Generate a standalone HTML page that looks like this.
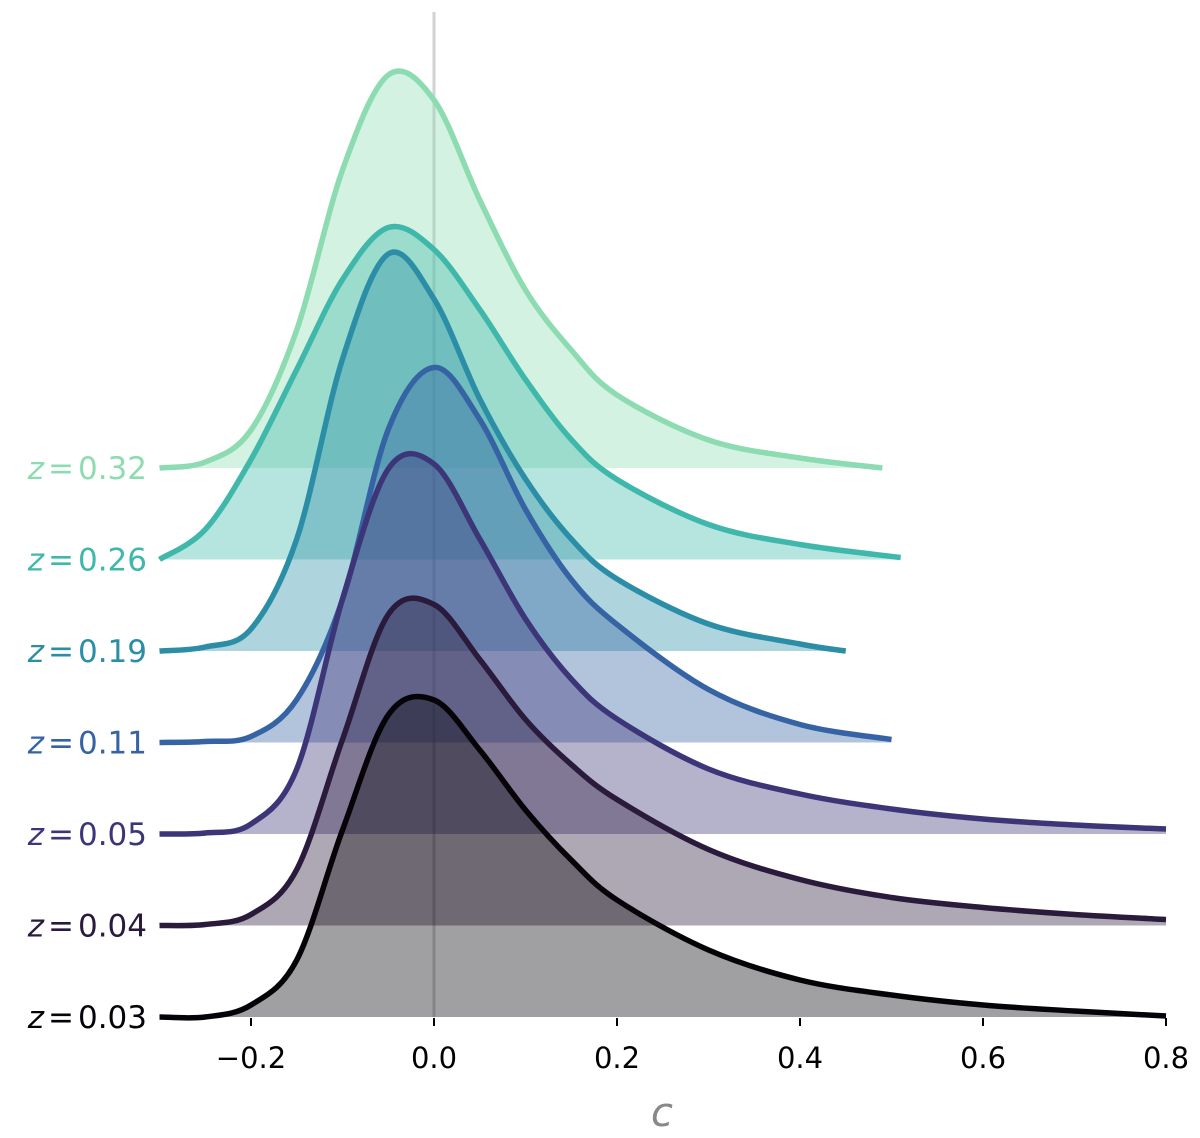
<!DOCTYPE html>
<html><head><meta charset="utf-8">
<style>
html,body{margin:0;padding:0;background:#fff;}
svg{display:block;font-family:"DejaVu Sans","Liberation Sans",sans-serif;}
</style></head>
<body>
<svg id="chart" width="1200" height="1138" viewBox="0 0 1200 1138" xmlns="http://www.w3.org/2000/svg"></svg>
<script>
const ticks = [-0.2, 0.0, 0.2, 0.4, 0.6, 0.8];
const tickLabels = ["\u22120.2", "0.0", "0.2", "0.4", "0.6", "0.8"];
const labels = ["0.32", "0.26", "0.19", "0.11", "0.05", "0.04", "0.03"];
const colors = ["#8ddcb1", "#3fb8ab", "#2b8ea6", "#3563a3", "#3c3578", "#2a1a3c", "#050308"];
const cGrid = [-0.3,-0.25,-0.2,-0.15,-0.1,-0.05,0,0.05,0.1,0.15,0.2,0.3,0.4,0.5,0.6,0.7,0.8];
const d032 = [0,6,38,138,298,393,368,268,178,118,73,28,10,0];
const d026 = [0,30,100,190,280,332,310,250,180,120,80,35,15,2];
const d019 = [0,4,22,112,292,397,352,252,172,112,72,27,7,0];
const d011 = [0,1,6,43,143,313,375,323,233,163,118,53,18,3];
const d005 = [0,1,10,65,235,365,370,295,215,155,115,65,40,25,15,9,5];
const d004 = [0,1,11,56,186,311,321,266,206,161,126,76,46,28,18,11,6];
const d003 = [0,0,12,57,187,302,317,267,207,157,117,67,37,22,12,6,1];
const ends = [0.49, 0.51, 0.45, 0.5, 0.8, 0.8, 0.8];
const series = [d032, d026, d019, d011, d005, d004, d003];

const X0 = 434, XS = 915;
const xScale = c => X0 + c * XS;
const baseY = i => 468 + i * 91.5;
const yScale = (i, d) => baseY(i) - d * 1.0;

const svg = document.getElementById('chart');
const NS = 'http://www.w3.org/2000/svg';
function mk(tag, attrs){const e=document.createElementNS(NS,tag);for(const k in attrs)e.setAttribute(k,attrs[k]);return e;}

function pathFrom(pts){
  let s = `M${pts[0][0]},${pts[0][1]}`;
  for(let i=0;i<pts.length-1;i++){
    const p0=pts[Math.max(0,i-1)],p1=pts[i],p2=pts[i+1],p3=pts[Math.min(pts.length-1,i+2)];
    const c1x=p1[0]+(p2[0]-p0[0])/6,c1y=p1[1]+(p2[1]-p0[1])/6;
    const c2x=p2[0]-(p3[0]-p1[0])/6,c2y=p2[1]-(p3[1]-p1[1])/6;
    s+=` C${c1x},${c1y} ${c2x},${c2y} ${p2[0]},${p2[1]}`;
  }
  return s;
}

// vertical reference line
const vl = mk('line',{x1:xScale(0),x2:xScale(0),y1:12,y2:1017,stroke:'#c8c8c8','stroke-width':3,opacity:0.8});


svg.appendChild(vl);

series.forEach((d,i)=>{
  const pts=[];
  d.forEach((v,j)=>{
    let c = j < d.length-1 || d.length===cGrid.length ? cGrid[j] : ends[i];
    if (j === d.length-1) c = ends[i];
    pts.push([xScale(c), yScale(i,v)]);
  });
  const line = pathFrom(pts);
  const g = mk('g',{});
  
  
  const fill = mk('path',{d: line+` L${pts[pts.length-1][0]},${baseY(i)} L${pts[0][0]},${baseY(i)} Z`, fill:colors[i], 'fill-opacity':0.38, stroke:'none'});
  
  
  const st = mk('path',{d: line, fill:'none', stroke:colors[i], 'stroke-width':5.5, 'stroke-linejoin':'round'});
  
  
  g.appendChild(fill); g.appendChild(st);
  const t = mk('text',{x:147,y:baseY(i)+11,'text-anchor':'end','font-size':31,fill:colors[i]});
  t.innerHTML = '<tspan font-style="italic">z</tspan><tspan dx="4">=</tspan><tspan dx="4">'+labels[i]+'</tspan>';
  
  
  g.appendChild(t);
  svg.appendChild(g);
});

ticks.forEach((v,k)=>{
  const tl = mk('line',{x1:xScale(v),x2:xScale(v),y1:1018,y2:1026,stroke:'#000','stroke-width':2});
  
  
  svg.appendChild(tl);
  const t = mk('text',{x:xScale(v),y:1068,'text-anchor':'middle','font-size':29,fill:'#000'});
  t.textContent = tickLabels[k];
  
  
  svg.appendChild(t);
});

const xt = mk('text',{x:662,y:1126,'text-anchor':'middle','font-size':40,'font-style':'italic',fill:'#888'});
xt.textContent='c';


svg.appendChild(xt);
</script>
</body></html>
